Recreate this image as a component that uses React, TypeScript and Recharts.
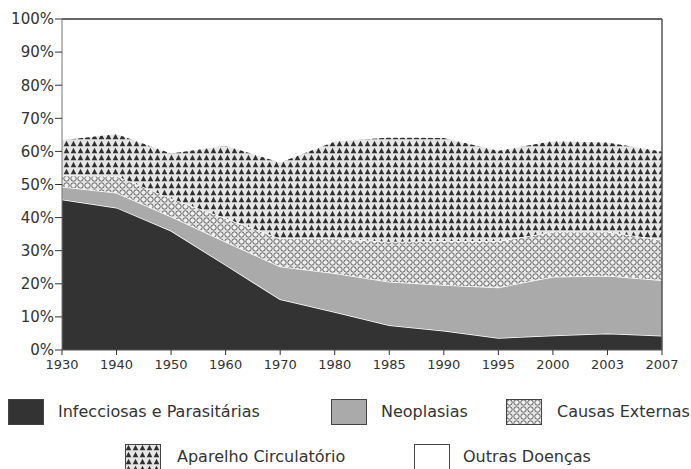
import React from 'react';
import { AreaChart, Area, XAxis, YAxis, ReferenceLine } from 'recharts';

// anos (eixo categórico, espaçamento igual)
const anos = ['1930', '1940', '1950', '1960', '1970', '1980', '1985', '1990', '1995', '2000', '2003', '2007'];

// participação de cada grupo de causas (%)
const infecciosas = [45.5, 43.0, 36.0, 25.7, 15.3, 11.5, 7.5, 5.8, 3.6, 4.4, 5.0, 4.3];
const neoplasias = [3.8, 4.5, 4.3, 7.0, 9.9, 11.7, 13.1, 13.8, 15.3, 17.7, 17.4, 16.8];
const causasExternas = [3.4, 5.1, 5.5, 7.1, 8.5, 10.5, 12.1, 13.3, 14.0, 13.6, 13.3, 12.1];
const aparelhoCirculatorio = [10.9, 12.9, 13.8, 22.1, 23.2, 29.5, 31.7, 31.4, 27.5, 27.7, 27.2, 27.0];
const outrasDoencas = [36.4, 34.5, 40.4, 38.1, 43.1, 36.8, 35.6, 35.7, 39.6, 36.6, 37.1, 39.8];

const yTicks = [0, 10, 20, 30, 40, 50, 60, 70, 80, 90, 100];

const dados = anos.map((ano, i) => ({
  ano,
  infecciosas: infecciosas[i],
  neoplasias: neoplasias[i],
  causas: causasExternas[i],
  aparelho: aparelhoCirculatorio[i],
  outras: outrasDoencas[i],
}));

const FONT = '"DejaVu Sans", Verdana, sans-serif';

// padrões de preenchimento (círculos e triângulos)
const Padroes = ({ sufixo }: { sufixo: string }) => (
  <defs>
    <pattern id={`circulos${sufixo}`} patternUnits="userSpaceOnUse" width={7} height={7}>
      <rect width={7} height={7} fill="#e4e4e4" />
      <circle cx={3.5} cy={3.5} r={2.7} fill="#eeeeee" stroke="#555555" strokeWidth={0.9} />
    </pattern>
    <pattern id={`triangulos${sufixo}`} patternUnits="userSpaceOnUse" width={7} height={7}>
      <rect width={7} height={7} fill="#e6e6e6" />
      <polygon points="3.5,0.8 6.3,6.2 0.7,6.2" fill="#303030" />
    </pattern>
  </defs>
);

const itensLegenda = [
  { nome: 'Infecciosas e Parasitárias', fill: '#333333', x: 8, texto: 58, top: 399 },
  { nome: 'Neoplasias', fill: '#aaaaaa', x: 331, texto: 381, top: 399 },
  { nome: 'Causas Externas', fill: 'url(#circulosL)', x: 506, texto: 557, top: 399 },
  { nome: 'Aparelho Circulatório', fill: 'url(#triangulosL)', x: 125, texto: 177, top: 444 },
  { nome: 'Outras Doenças', fill: '#ffffff', x: 414, texto: 463, top: 444 },
];

const Legenda = () => (
  <>
    {itensLegenda.map((item) => (
      <React.Fragment key={item.nome}>
        <svg
          width={36}
          height={26}
          style={{ position: 'absolute', left: item.x, top: item.top }}
        >
          <Padroes sufixo="L" />
          <rect x={0.5} y={0.5} width={35} height={25} fill={item.fill} stroke="#444" strokeWidth={1} />
        </svg>
        <div
          style={{
            position: 'absolute',
            left: item.texto,
            top: item.top,
            height: 26,
            lineHeight: '26px',
            fontFamily: FONT,
            fontSize: 16,
            color: '#333',
            whiteSpace: 'nowrap',
          }}
        >
          {item.nome}
        </div>
      </React.Fragment>
    ))}
  </>
);

const App: React.FC = () => {
  return (
    <div style={{ position: 'absolute', left: 0, top: 0, width: 691, height: 469, background: '#fff' }}>
      <AreaChart
        width={691}
        height={380}
        data={dados}
        margin={{ top: 19, right: 29, left: 0, bottom: 0 }}
      >
        <Padroes sufixo="" />
        <XAxis
          dataKey="ano"
          interval={0}
          height={30}
          tickSize={5}
          tickMargin={5}
          tick={{ fill: '#333', fontSize: 13, fontFamily: FONT }}
          axisLine={{ stroke: '#555' }}
          tickLine={{ stroke: '#333' }}
        />
        <YAxis
          type="number"
          domain={[0, 100]}
          ticks={yTicks}
          allowDataOverflow
          width={62}
          tickSize={7}
          tickMargin={1}
          tickFormatter={(v) => `${v}%`}
          tick={{ fill: '#333', fontSize: 15, fontFamily: FONT }}
          axisLine={{ stroke: '#777' }}
          tickLine={{ stroke: '#333' }}
        />
        <Area type="linear" dataKey="infecciosas" stackId="1" fill="#333333" fillOpacity={1} stroke="#ffffff" strokeWidth={1.5} isAnimationActive={false} />
        <Area type="linear" dataKey="neoplasias" stackId="1" fill="#aaaaaa" fillOpacity={1} stroke="#ffffff" strokeWidth={1.5} isAnimationActive={false} />
        <Area type="linear" dataKey="causas" stackId="1" fill="url(#circulos)" fillOpacity={1} stroke="#ffffff" strokeWidth={1.5} isAnimationActive={false} />
        <Area type="linear" dataKey="aparelho" stackId="1" fill="url(#triangulos)" fillOpacity={1} stroke="#ffffff" strokeWidth={1.5} isAnimationActive={false} />
        <Area type="linear" dataKey="outras" stackId="1" fill="#ffffff" fillOpacity={1} stroke="none" isAnimationActive={false} />
        <ReferenceLine y={100} stroke="#333" strokeWidth={1.5} />
        <ReferenceLine x="2007" stroke="#555" strokeWidth={1.5} />
      </AreaChart>
      <Legenda />
    </div>
  );
};

export default App;
